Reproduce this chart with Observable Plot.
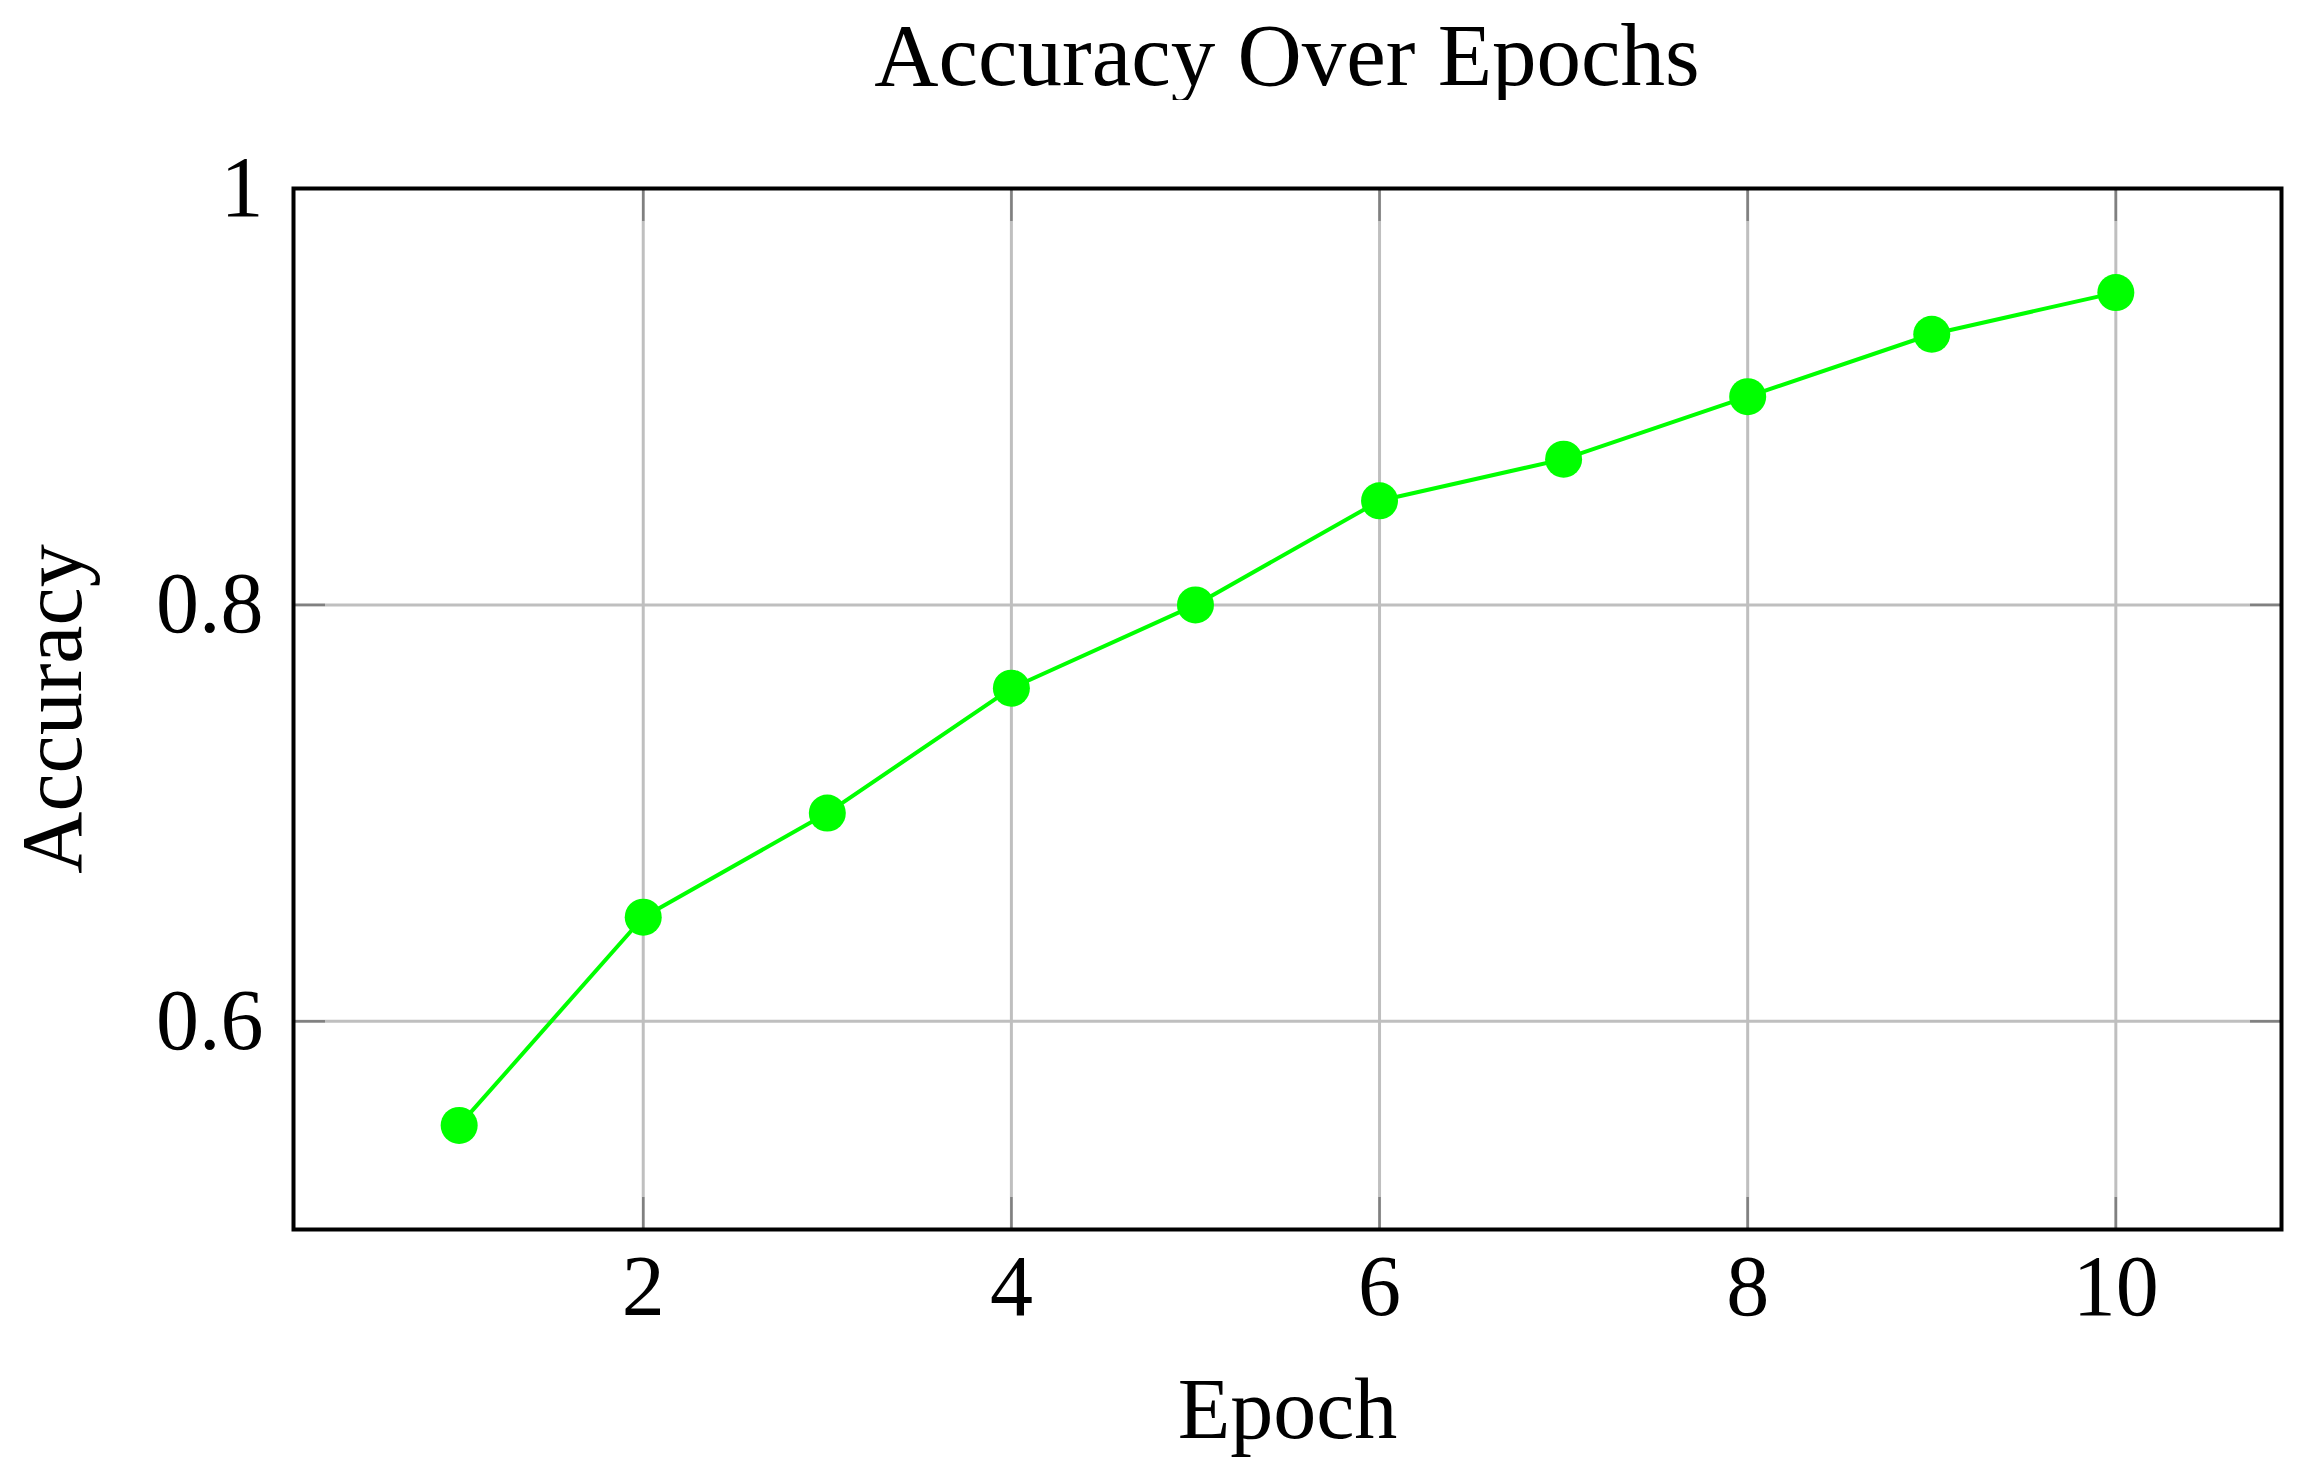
<!DOCTYPE html>
<html>
<head>
<meta charset="utf-8">
<script src="https://cdn.jsdelivr.net/npm/d3@7"></script>
<script src="https://cdn.jsdelivr.net/npm/@observablehq/plot@0.6"></script>
<style>
  html, body { margin: 0; padding: 0; background: #fff; }
  body { width: 2299px; height: 1480px; position: relative; overflow: hidden; font-family: "Liberation Serif", serif; }
  #title { position: absolute; left: 293px; width: 1988px; top: 11px; text-align: center; font-size: 89px; line-height: 1; color: #000; }
  #chart { position: absolute; left: 0; top: 100px; }
  #chart svg { overflow: visible; }
</style>
</head>
<body>
<div id="title">Accuracy Over Epochs</div>
<div id="chart"></div>
<script>
const epochs = [1, 2, 3, 4, 5, 6, 7, 8, 9, 10];
const accuracy = [0.55, 0.65, 0.70, 0.76, 0.80, 0.85, 0.87, 0.90, 0.93, 0.95];
const xTicks = [2, 4, 6, 8, 10];
const xTickLabels = ["2", "4", "6", "8", "10"];
const yTicks = [0.6, 0.8, 1];
const yTickLabels = ["0.6", "0.8", "1"];
const xLabel = "Epoch";
const yLabel = "Accuracy";

const data = epochs.map((e, i) => ({epoch: e, acc: accuracy[i]}));
const font = "Liberation Serif";
const fs = 86;
const green = "#00ff00";

const chart = Plot.plot({
  width: 2299,
  height: 1380,
  marginLeft: 293,
  marginRight: 18,
  marginTop: 88,
  marginBottom: 251,
  style: {fontFamily: font, background: "white", overflow: "visible"},
  x: {domain: [0.1, 10.9]},
  y: {domain: [0.5, 1]},
  marks: [
    Plot.gridX(xTicks, {stroke: "#bfbfbf", strokeOpacity: 1, strokeWidth: 3}),
    Plot.gridY(yTicks, {stroke: "#bfbfbf", strokeOpacity: 1, strokeWidth: 3}),
    Plot.axisX(xTicks, {anchor: "bottom", tickSize: -32, stroke: "#808080", strokeWidth: 2.5, text: null, label: null}),
    Plot.axisX(xTicks, {anchor: "top", tickSize: -32, stroke: "#808080", strokeWidth: 2.5, text: null, label: null}),
    Plot.axisY(yTicks, {anchor: "left", tickSize: -32, stroke: "#808080", strokeWidth: 2.5, text: null, label: null}),
    Plot.axisY(yTicks, {anchor: "right", tickSize: -32, stroke: "#808080", strokeWidth: 2.5, text: null, label: null}),
    Plot.axisX(xTicks, {anchor: "bottom", tickSize: 0, tickPadding: 24, fontSize: fs, fill: "black",
      tickFormat: d => xTickLabels[xTicks.indexOf(d)], label: null}),
    Plot.axisY(yTicks, {anchor: "left", tickSize: 0, tickPadding: 30, fontSize: fs, fill: "black",
      tickFormat: d => yTickLabels[yTicks.indexOf(d)], label: null}),
    Plot.line(data, {x: "epoch", y: "acc", stroke: green, strokeWidth: 4}),
    Plot.dot(data, {x: "epoch", y: "acc", r: 18.5, fill: green, stroke: null}),
    Plot.frame({stroke: "black", strokeWidth: 4}),
    Plot.text([xLabel], {frameAnchor: "bottom", dy: 208, lineAnchor: "bottom", textAnchor: "middle", fontSize: fs, fill: "black", text: d => d}),
    Plot.text([yLabel], {frameAnchor: "left", dx: -213, rotate: -90, lineAnchor: "bottom", textAnchor: "middle", fontSize: fs, fill: "black", text: d => d})
  ]
});
document.getElementById("chart").appendChild(chart);
</script>
</body>
</html>
